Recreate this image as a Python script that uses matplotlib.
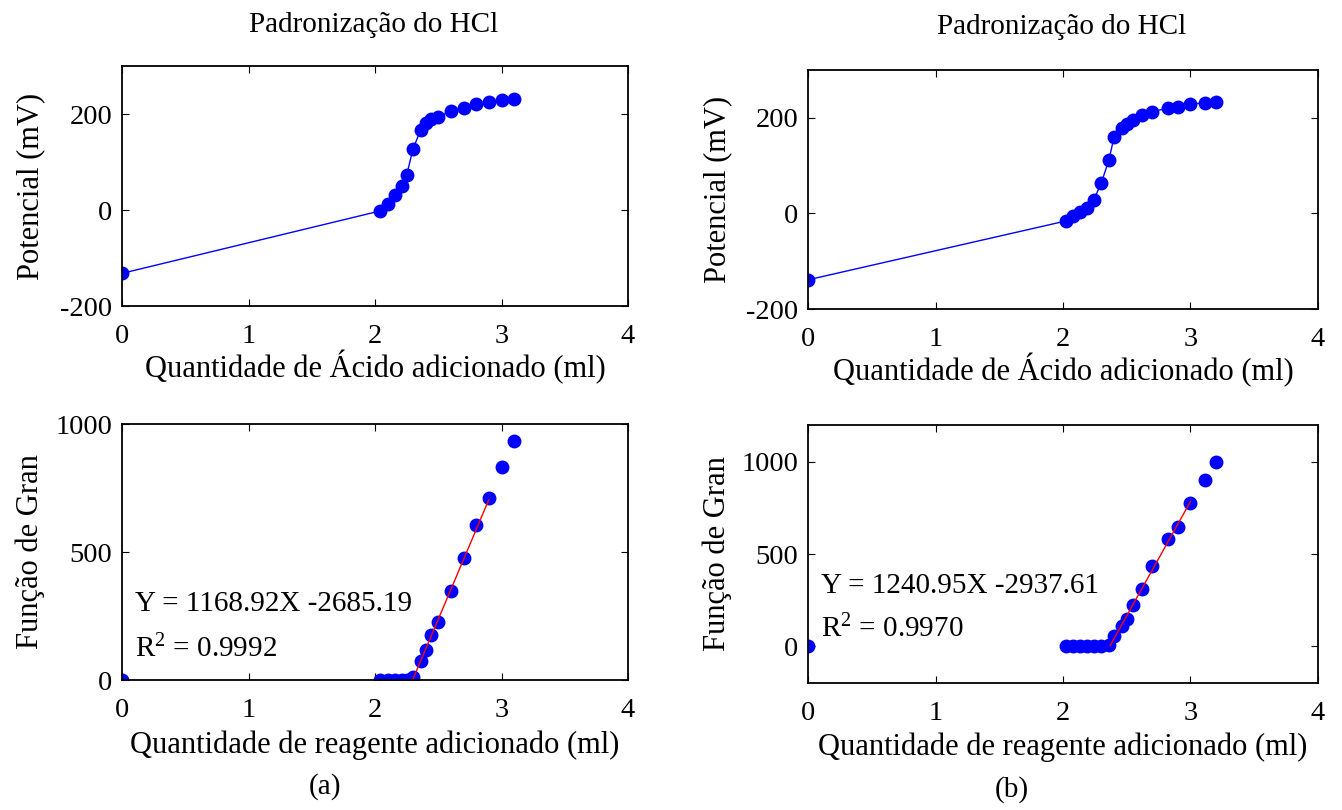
import numpy as np
import matplotlib
matplotlib.use('Agg')
import matplotlib.pyplot as plt

plt.rcParams['font.family'] = ['Liberation Serif', 'DejaVu Serif']
plt.rcParams['mathtext.fontset'] = 'custom'
plt.rcParams['mathtext.rm'] = 'Liberation Serif'
plt.rcParams['mathtext.it'] = 'Liberation Serif:italic'
plt.rcParams['axes.unicode_minus'] = False

# ---- data (a) ----
vol_a = [0, 2.04, 2.10, 2.16, 2.21, 2.25, 2.30, 2.36, 2.40, 2.44, 2.50,
         2.60, 2.70, 2.80, 2.90, 3.00, 3.10]
pot_a = [-132, -2, 13, 31, 51, 72, 127, 166, 181, 189, 194,
         206, 213, 221, 225, 229, 231]
gran_a = [0, 0, 0, 0, 0, 0, 13, 73, 119, 177, 226,
          347, 478, 605, 709, 831, 932]
fit_a = (1168.92, -2685.19)
fit_range_a = [2.30, 2.90]
r2_a = 0.9992

# ---- data (b) ----
vol_b = [0, 2.02, 2.08, 2.13, 2.19, 2.24, 2.30, 2.36, 2.40, 2.46, 2.50,
         2.55, 2.62, 2.70, 2.82, 2.90, 3.00, 3.11, 3.20]
pot_b = [-139, -16, -6, 3, 11, 28, 63, 112, 159, 178, 186,
         196, 206, 213, 220, 223, 229, 231, 234]
gran_b = [0, 0, 0, 0, 0, 0, 0, 5, 54, 110, 145,
          221, 309, 436, 579, 647, 779, 899, 1000]
fit_b = (1240.95, -2937.61)
fit_range_b = [2.37, 3.00]
r2_b = 0.9970

W, H = 1342, 810
TICK_FS = 20.5
LABEL_FS = 22
TEXT_FS = 21


def px_axes(fig, left, top, right, bottom):
    return fig.add_axes([left / W, 1 - bottom / H, (right - left) / W, (bottom - top) / H])


def style(ax, xlabel, ylabel, xlab_off):
    ax.tick_params(direction='in', top=True, right=True, length=5, width=0.8,
                   labelsize=TICK_FS)
    ax.tick_params(axis='x', pad=13)
    ax.tick_params(axis='y', pad=7)
    for s in ax.spines.values():
        s.set_linewidth(1.3)
    ax.set_xlim(0, 4)
    ax.set_xticks([0, 1, 2, 3, 4])
    ax.set_xlabel(xlabel, fontsize=LABEL_FS)
    ax.set_ylabel(ylabel, fontsize=LABEL_FS)
    bb = ax.get_position()
    wpx, hpx = bb.width * W, bb.height * H
    ax.xaxis.set_label_coords(0.5, -xlab_off / hpx)
    ax.yaxis.set_label_coords((45 - bb.x0 * W) / wpx if bb.x0 < 0.5 else (732 - bb.x0 * W) / wpx, 0.5)


def top_panel(ax, x, y):
    ax.plot(x, y, '-o', color='blue', lw=1, ms=9, mec='blue')
    ax.set_ylim(-200, 300)
    ax.set_yticks([-200, 0, 200])
    style(ax, 'Quantidade de Ácido adicionado (ml)', 'Potencial (mV)', 44)


def bottom_panel(ax, x, y, fit, fit_range, r2, ylim, ty):
    ax.plot(x, y, 'o', color='blue', ms=9, mec='blue')
    fx = np.array(fit_range)
    ax.plot(fx, fit[0] * fx + fit[1], color='red', lw=1)
    ax.set_ylim(*ylim)
    ax.set_yticks([0, 500, 1000])
    style(ax, 'Quantidade de reagente adicionado (ml)', 'Função de Gran', 50)
    ax.text(0.1, ty[0], 'Y = %.2fX %.2f' % fit, fontsize=TEXT_FS, va='center')
    ax.text(0.1, ty[1], 'R$^2$ = %.4f' % r2, fontsize=TEXT_FS, va='center')


fig = plt.figure(figsize=(W / 100, H / 100), dpi=100)

ax1 = px_axes(fig, 122, 66, 628, 306)
ax2 = px_axes(fig, 808, 70, 1318, 309)
ax3 = px_axes(fig, 122, 424, 628, 680)
ax4 = px_axes(fig, 808, 425, 1318, 683)

top_panel(ax1, vol_a, pot_a)
top_panel(ax2, vol_b, pot_b)
bottom_panel(ax3, vol_a, gran_a, fit_a, fit_range_a, r2_a, (0, 1000), (296, 121))
bottom_panel(ax4, vol_b, gran_b, fit_b, fit_range_b, r2_b, (-200, 1200), (327, 92))

fig.text(374 / W, 1 - 25 / H, 'Padronização do HCl', fontsize=TEXT_FS, ha='center', va='center')
fig.text(1062 / W, 1 - 27 / H, 'Padronização do HCl', fontsize=TEXT_FS, ha='center', va='center')
fig.text(325 / W, 1 - 787 / H, '(a)', fontsize=TEXT_FS, ha='center', va='center')
fig.text(1012 / W, 1 - 790 / H, '(b)', fontsize=TEXT_FS, ha='center', va='center')

fig.savefig('out.png', dpi=100)
